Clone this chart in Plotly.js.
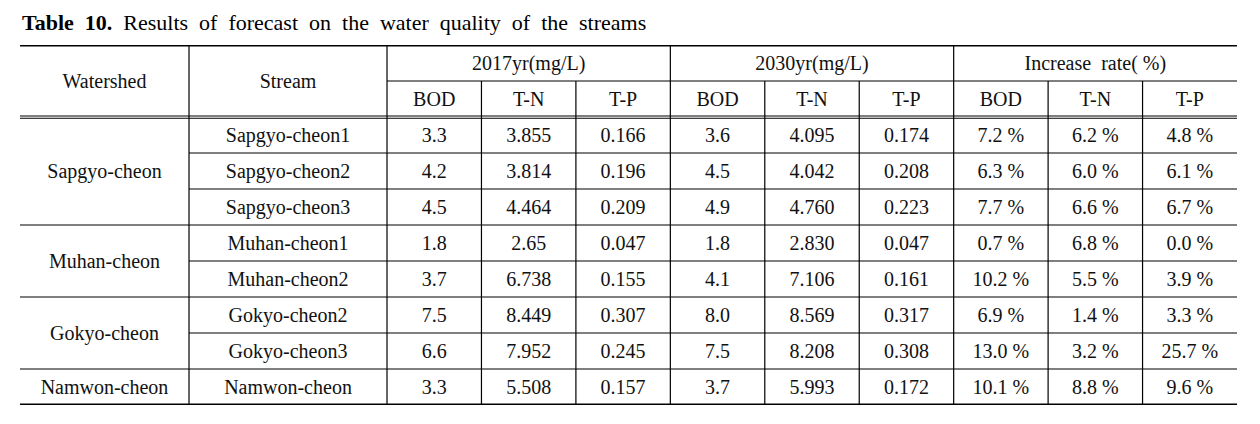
<!DOCTYPE html>
<html>
<head>
<meta charset="utf-8">
<script src="https://cdn.plot.ly/plotly-3.0.1.min.js"></script>
<style>html,body{margin:0;padding:0;background:#fff;}#chart{width:1260px;height:424px;}</style>
</head>
<body>
<div id="chart"></div>
<script>
// ---------- data ----------
const watersheds = ['Sapgyo-cheon', 'Muhan-cheon', 'Gokyo-cheon', 'Namwon-cheon'];
const watershedRows = [3, 2, 2, 1];
const streams = ['Sapgyo-cheon1', 'Sapgyo-cheon2', 'Sapgyo-cheon3', 'Muhan-cheon1', 'Muhan-cheon2', 'Gokyo-cheon2', 'Gokyo-cheon3', 'Namwon-cheon'];
const groupHeaders = ['2017yr(mg/L)', '2030yr(mg/L)', 'Increase\u00a0\u00a0rate(\u00a0%)'];
const subHeaders = ['BOD', 'T-N', 'T-P'];
const bod2017 = [3.3, 4.2, 4.5, 1.8, 3.7, 7.5, 6.6, 3.3];
const tn2017 = [3.855, 3.814, 4.464, 2.65, 6.738, 8.449, 7.952, 5.508];
const tp2017 = [0.166, 0.196, 0.209, 0.047, 0.155, 0.307, 0.245, 0.157];
const bod2030 = [3.6, 4.5, 4.9, 1.8, 4.1, 8.0, 7.5, 3.7];
const tn2030 = [4.095, 4.042, 4.760, 2.830, 7.106, 8.569, 8.208, 5.993];
const tp2030 = [0.174, 0.208, 0.223, 0.047, 0.161, 0.317, 0.308, 0.172];
const rateBod = [7.2, 6.3, 7.7, 0.7, 10.2, 6.9, 13.0, 10.1];
const rateTn = [6.2, 6.0, 6.6, 6.8, 5.5, 1.4, 3.2, 8.8];
const rateTp = [4.8, 6.1, 6.7, 0.0, 3.9, 3.3, 25.7, 9.6];
const headerLeft = ['Watershed', 'Stream'];
const titleBold = 'Table 10.';
const titleRest = 'Results of forecast on the water quality of the streams';

// ---------- geometry (column widths in axis units, rows of 1 unit) ----------
const colW = [169, 198, 94.44, 94.44, 94.44, 94.44, 94.44, 94.44, 94.44, 94.44, 94.44];
const colStart = [0];
colW.forEach((w, i) => colStart.push(colStart[i] + w));
const totalW = colStart[colStart.length - 1];
const colMid = colW.map((w, i) => colStart[i] + w / 2);
const nHead = 2;
const nRows = nHead + streams.length;
const textDy = 0.05; // small baseline nudge

const fmt1 = v => v.toFixed(1);
const fmt3 = v => v.toFixed(3);
const fmtS = v => String(v);
const fmtP = v => v.toFixed(1) + '\u00a0%';
const valueCols = [
  [bod2017, fmt1], [tn2017, fmtS], [tp2017, fmt3],
  [bod2030, fmt1], [tn2030, fmt3], [tp2030, fmt3],
  [rateBod, fmtP], [rateTn, fmtP], [rateTp, fmtP]
];

// ---------- text cells ----------
const tx = [], ty = [], tt = [];
function cell(x, y, t) { tx.push(x); ty.push(y + textDy); tt.push(t); }
cell(colMid[0], nHead / 2, headerLeft[0]);
cell(colMid[1], nHead / 2, headerLeft[1]);
groupHeaders.forEach((g, gi) => {
  const x0 = colStart[2 + gi * 3], x1 = colStart[5 + gi * 3];
  cell((x0 + x1) / 2, 0.5, g);
  subHeaders.forEach((s, si) => cell(colMid[2 + gi * 3 + si], 1.5, s));
});
let r = nHead;
const groupBounds = [];
watersheds.forEach((w, i) => {
  cell(colMid[0], r + watershedRows[i] / 2, w);
  r += watershedRows[i];
  groupBounds.push(r);
});
streams.forEach((s, i) => {
  const y = nHead + i + 0.5;
  cell(colMid[1], y, s);
  valueCols.forEach((vc, j) => cell(colMid[2 + j], y, vc[1](vc[0][i])));
});

// ---------- lines ----------
const shapes = [];
function hline(y, x0, x1, w) {
  shapes.push({type: 'line', xref: 'x', yref: 'y', x0: x0, x1: x1, y0: y, y1: y, line: {color: '#000', width: w}});
}
function vline(x, y0, y1, w) {
  shapes.push({type: 'line', xref: 'x', yref: 'y', x0: x, x1: x, y0: y0, y1: y1, line: {color: '#000', width: w}});
}
hline(0, 0, totalW, 3.2);
hline(nRows, 0, totalW, 3.2);
hline(1, colStart[2], totalW, 1.2);
hline(nHead - 0.028, 0, totalW, 1.1);
hline(nHead + 0.036, 0, totalW, 1.1);
for (let i = 1; i < streams.length; i++) {
  const y = nHead + i;
  if (groupBounds.includes(y)) hline(y, 0, totalW, 1.2);
  else hline(y, colStart[1], totalW, 1.2);
}
[1, 2, 5, 8].forEach(c => vline(colStart[c], 0, nRows, 1.2));
[3, 4, 6, 7, 9, 10].forEach(c => vline(colStart[c], 1, nRows, 1.2));

const FONT = 'Liberation Serif, Times New Roman, serif';

const trace = {
  type: 'scatter', mode: 'text', x: tx, y: ty, text: tt,
  textposition: 'middle center',
  textfont: {family: FONT, size: 20, color: '#111'},
  hoverinfo: 'skip', showlegend: false, cliponaxis: false
};

const layout = {
  width: 1260, height: 424,
  margin: {l: 20, r: 23, t: 45, b: 19},
  paper_bgcolor: '#fff', plot_bgcolor: '#fff',
  xaxis: {range: [0, totalW], visible: false, fixedrange: true},
  yaxis: {range: [nRows, 0], visible: false, fixedrange: true},
  shapes: shapes,
  showlegend: false,
  annotations: [{
    xref: 'paper', yref: 'paper', x: 0, y: 1.063, xanchor: 'left', yanchor: 'middle',
    showarrow: false, align: 'left',
    text: '<b>' + titleBold.replace(' ', '\u00a0\u00a0') + '</b>\u00a0 ' + titleRest.split(' ').join('\u00a0\u00a0'),
    font: {family: FONT, size: 22, color: '#000'}
  }]
};

Plotly.newPlot('chart', [trace], layout, {staticPlot: true, displayModeBar: false});
</script>
</body>
</html>
